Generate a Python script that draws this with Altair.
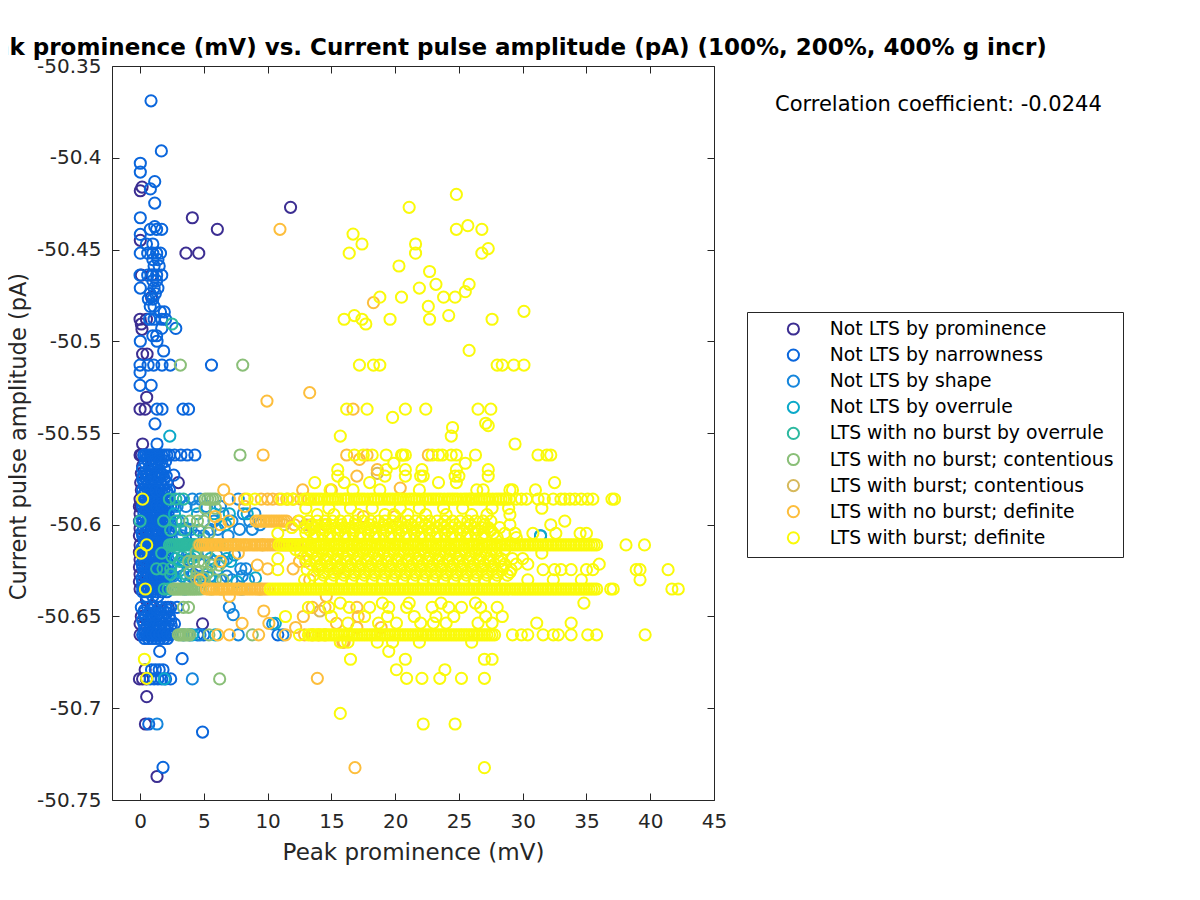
import altair as alt
import pandas as pd

names = ["Not LTS by prominence", "Not LTS by narrowness", "Not LTS by shape", "Not LTS by overrule",
         "LTS with no burst by overrule", "LTS with no burst; contentious", "LTS with burst; contentious",
         "LTS with no burst; definite", "LTS with burst; definite"]
colors = ["#3C2E92", "#0A66DC", "#1586DC", "#0BA9C9", "#2DB9A0", "#8ABF78", "#D6B95C", "#FDBE3C", "#FAFA0A"]

prominence_rows = [
 (-50.427,[11.8]),(-50.4327,[4.1]),(-50.439,[6.06]),(-50.452,[3.6,4.6]),(-50.416,[0.16]),(-50.418,[0.02]),
 (-50.445,[0.02]),(-50.464,[0.1,0.9]),(-50.476,[0.9]),(-50.488,[0.0,0.5]),(-50.4906,[0.1]),(-50.4935,[0.15]),
 (-50.507,[0.2,0.55]),(-50.5305,[0.52]),(-50.537,[0.0,0.4]),(-50.556,[0.2]),(-50.562,[0.0,0.1,0.3]),
 (-50.568,[0.2,0.9]),(-50.572,[0.1]),(-50.577,[0.05,3.0]),(-50.581,[0.1]),(-50.586,[0.0]),(-50.59,[-0.05,0.1]),
 (-50.594,[0.0]),(-50.598,[-0.05]),(-50.602,[0.0]),(-50.606,[-0.05]),(-50.611,[0.0]),(-50.615,[-0.05]),
 (-50.619,[0.0]),(-50.623,[-0.05]),(-50.627,[0.0]),(-50.631,[-0.05]),(-50.635,[0.0]),(-50.641,[0.5]),
 (-50.645,[2.2,0.9]),(-50.65,[0.1]),(-50.654,[0.0,4.9]),(-50.66,[0.0]),(-50.679,[0.4]),(-50.684,[-0.05,0.2,0.5]),
 (-50.6937,[0.52]),(-50.7086,[0.42]),(-50.7372,[1.33]),
]
narrowness_rows = [
 (-50.369,[0.86]),(-50.3963,[1.67]),(-50.403,[0.02]),(-50.4078,[0.02]),(-50.413,[1.15]),(-50.417,[0.81]),
 (-50.4247,[1.15]),(-50.4327,[0.02]),(-50.4375,[1.15]),(-50.439,[0.8,1.3,1.7]),(-50.4418,[0.02]),
 (-50.447,[0.5,1.0]),(-50.452,[0.02,0.6,1.0,1.3,1.6]),(-50.4555,[1.0,1.4]),(-50.459,[1.1,1.5]),
 (-50.464,[0.0,0.6,1.0,1.3,1.7]),(-50.467,[1.0,1.3]),(-50.471,[0.02,1.1,1.4]),(-50.474,[0.8,1.2]),
 (-50.477,[0.65,1.0]),(-50.481,[0.8,1.1]),(-50.484,[1.6,1.9]),(-50.488,[0.75,1.1,1.7,2.0]),(-50.493,[1.7,2.8]),
 (-50.5,[1.33,0.02]),(-50.497,[1.0,1.3]),(-50.5053,[1.85]),(-50.513,[0.0,0.63,1.07,1.72,2.37,5.6]),
 (-50.517,[0.0]),(-50.524,[0.0,0.87]),(-50.537,[1.33,1.72,3.37,3.8]),(-50.545,[1.17]),(-50.556,[1.33]),
 (-50.562,[0.3,0.45,0.6,0.75,0.9,1.05,1.2,1.35,1.5,1.7,1.9,2.1,2.3,2.7,3.2,3.7,4.3]),
 (-50.5665,[0.4,0.9,1.3,1.7]),(-50.5695,[0.2,0.7,1.1,1.9]),(-50.573,[0.5,0.9,1.4,1.8,2.64]),
 (-50.577,[0.3,0.7,1.2,1.6,2.1]),(-50.581,[0.2,0.6,1.0,1.5,1.9,2.3]),(-50.586,[0.4,0.8,1.2,1.6,2.0]),
 (-50.59,[0.2,0.6,1.1,1.5,1.9,2.4]),(-50.594,[0.3,0.7,1.0,1.4,1.8,2.2]),(-50.598,[0.2,0.6,1.1,1.5,2.0,2.4]),
 (-50.602,[0.3,0.7,1.2,1.6,2.0,3.6]),(-50.606,[0.2,0.5,1.0,1.4,1.9,2.3,4.4]),(-50.611,[0.3,0.7,1.1,1.5,1.9,2.2]),
 (-50.615,[0.2,0.6,1.0,1.4,1.8,2.1]),(-50.619,[0.3,0.8,1.2,1.6,2.0,3.8]),(-50.623,[0.2,0.6,1.1,1.5,1.9,2.4]),
 (-50.627,[0.3,0.7,1.0,1.4,1.8,2.2,4.2]),(-50.631,[0.2,0.6,1.1,1.5,2.0]),(-50.635,[0.3,0.7,1.1,1.5,1.9]),
 (-50.639,[0.5,1.0,1.4]),(-50.645,[0.1,0.6,1.1,1.6,2.0,2.4,2.9]),(-50.65,[0.4,0.9,1.3,1.8,2.3]),
 (-50.654,[0.3,0.8,1.2,1.7,2.2,2.7]),(-50.66,[0.2,0.5,0.8,1.1,1.4,1.7,2.0,2.3,3.9,4.5,5.0,10.8]),
 (-50.669,[1.54]),(-50.673,[3.3]),(-50.679,[0.9,1.2,1.5,1.8]),(-50.684,[0.8,1.1,1.4,1.7,2.0,2.4]),
 (-50.7086,[0.68]),(-50.713,[4.9]),(-50.7322,[1.8]),
 (-50.564,[0.5,0.8,1.1,1.5]),(-50.5715,[0.4,0.9,1.3,1.6]),(-50.575,[0.2,0.5,1.0,1.45,1.9]),
 (-50.579,[0.45,0.85,1.35,1.75]),(-50.5835,[0.3,0.7,1.1,1.4,1.8,2.2]),(-50.588,[0.25,0.55,1.0,1.4,1.75,2.2]),
 (-50.592,[0.4,0.85,1.25,1.65,2.1]),(-50.596,[0.45,0.9,1.2,1.6,2.05]),(-50.6,[0.4,0.85,1.3,1.8,2.2]),
 (-50.604,[0.15,0.5,0.95,1.4,1.8,2.25]),(-50.608,[0.35,0.75,1.2,1.65,2.1]),(-50.6125,[0.15,0.5,0.9,1.3,1.7,2.05]),
 (-50.617,[0.4,0.8,1.2,1.6,2.0]),(-50.621,[0.15,0.55,1.0,1.4,1.8,2.2]),(-50.625,[0.4,0.85,1.3,1.7,2.1]),
 (-50.629,[0.15,0.5,0.9,1.2,1.6,2.0]),(-50.633,[0.4,0.85,1.3,1.75]),(-50.6365,[0.2,0.5,0.9,1.3,1.7,2.1]),
 (-50.648,[0.3,0.7,1.2,1.5,2.1]),(-50.652,[0.2,0.6,1.0,1.5,2.0,2.4]),(-50.657,[0.35,0.75,1.3,1.9,2.4]),
 (-50.662,[0.35,0.65,0.95,1.25,1.55,1.85,2.15]),
 (-50.5655,[0.65,1.15,1.55,2.0]),(-50.5735,[0.25,0.7,1.15,1.6,2.05]),(-50.5815,[0.4,0.8,1.25,1.7,2.1]),
 (-50.59,[0.4,0.85,1.3,1.7,2.15,2.6]),(-50.597,[0.25,0.7,1.35,1.8,2.25]),(-50.6035,[0.55,1.05,1.5,1.9,2.4]),
 (-50.61,[0.5,0.9,1.3,1.7,2.1]),(-50.6165,[0.3,0.7,1.1,1.5,1.95]),(-50.6225,[0.4,0.85,1.25,1.7,2.15]),
 (-50.628,[0.5,0.95,1.3,1.65,2.05,2.4]),(-50.634,[0.2,0.6,1.0,1.4,1.8]),(-50.6465,[0.35,0.85,1.35,1.8,2.25]),
 (-50.655,[0.55,1.0,1.45,1.95,2.45]),(-50.6595,[0.35,0.65,0.95,1.25,1.55,1.85,2.15,2.5]),
]
shape_rows = [
 (-50.586,[4.1,7.7,3.1,4.7]),(-50.594,[6.5,8.1,9.0]),(-50.598,[5.8,7.2,8.6,3.0]),(-50.6,[9.4]),
 (-50.606,[31.4,3.3,5.0,6.9]),(-50.611,[2.5,4.2]),(-50.62,[3.4,5.8,6.5]),(-50.624,[2.9,7.9,8.3]),
 (-50.63,[4.3,6.3,7.2,8.5]),(-50.635,[3.5,8.0]),(-50.645,[7.0]),(-50.649,[7.3]),(-50.654,[10.4]),
 (-50.66,[3.4,4.7,7.7,11.2]),(-50.684,[4.1]),(-50.7086,[1.33]),
 (-50.59,[2.9,3.6,4.4,5.2,6.3]),(-50.6025,[2.7,3.2,4.0,5.5,6.1,7.8,8.8]),(-50.6165,[3.0,3.7,4.5,5.2,6.0,7.4]),
 (-50.628,[2.6,3.3,4.0,4.8,5.5,6.8,8.0]),
]
overrule_rows = [
 (-50.5517,[2.33]),(-50.6,[6.7]),(-50.61,[3.6]),(-50.62,[7.1]),(-50.625,[3.1,6.0]),(-50.629,[9.05,5.5]),
 (-50.6537,[10.6]),(-50.66,[5.9,4.1]),(-50.684,[1.9]),(-50.606,[31.4]),
 (-50.594,[2.7,4.5,5.8,7.0,8.4]),(-50.6185,[2.8,4.0,5.5,6.8]),(-50.631,[2.8,3.9,5.0,7.6]),
]
no_burst_overrule_rows = [
 (-50.4906,[2.5]),(-50.586,[2.3,2.8,3.4]),(-50.598,[0.0,1.85,2.8,3.3]),
 (-50.611,[2.3,2.45,2.6,2.75,2.9,3.05,3.2,3.35,3.5,3.65,3.8,3.95,4.1,4.3,4.5]),
 (-50.6155,[1.7]),(-50.624,[1.3,1.8,2.4]),(-50.635,[1.9,2.2,2.5]),(-50.62,[3.1]),
 (-50.6175,[2.5,3.3,4.3]),(-50.627,[2.4,3.6,5.2]),(-50.603,[2.4,3.5,4.6]),
]
no_burst_contentious_rows = [
 (-50.513,[3.16,8.05]),(-50.562,[7.84]),(-50.586,[5.1,5.3,5.5,5.7,5.9]),(-50.591,[5.1,5.9]),(-50.6045,[5.4]),
 (-50.611,[4.6,5.0,5.7,6.2,7.1]),(-50.62,[3.8,4.2,4.6,5.0]),(-50.626,[3.9,4.5,5.3]),
 (-50.635,[2.6,2.75,2.9,3.05,3.2,3.35,3.5,3.65,3.8,3.95,4.1,4.25,4.4,4.6,4.8,5.6,6.4]),(-50.645,[3.8,3.4]),(-50.63,[6.5,5.9]),
 (-50.66,[3.0,3.15,3.3,3.45,3.6,3.75,3.9,5.4,8.8]),(-50.684,[6.24]),
 (-50.598,[3.9,4.5,5.0]),(-50.622,[5.6,6.2]),(-50.615,[4.4,5.2]),(-50.629,[4.4,5.0]),
]
burst_contentious_rows = [
 (-50.572,[18.6]),(-50.6,[11.3,13.0]),(-50.611,[7.5,9.6]),(-50.635,[7.8,9.4]),(-50.647,[14.1]),
]
no_burst_definite_rows = [
 (-50.439,[10.97]),(-50.479,[18.3]),(-50.528,[13.3]),(-50.5326,[9.95]),(-50.537,[16.7]),
 (-50.562,[9.65,16.2,17.8,22.6]),(-50.5644,[17.2]),(-50.57,[18.6]),(-50.5735,[17.0]),(-50.58,[20.4]),
 (-50.581,[6.56,12.75,15.0]),(-50.586,[7.0,8.2,9.5,10.0,10.4,10.9,11.5,12.0,12.6,13.2]),(-50.59,[8.2]),
 (-50.5955,[5.9,17.5,20.0]),(-50.598,[6.95,9.1,9.3,9.5,9.7,9.9,10.1,10.3,10.5,10.7,10.9,11.1,11.3,11.5,12.4]),(-50.6,[6.3,12.1,13.4,14.5]),
 (-50.611,[4.7,4.9,5.1,5.25,5.4,5.6,5.8,5.95,6.1,6.3,6.5,6.7,6.9,7.1,7.3,7.5,7.7,7.9,8.1,8.25,8.4,8.6,8.8,9.0,9.2,9.4,9.6,9.8,10.0,10.2,10.4,10.6,10.8,11.0,11.2,11.4,11.6,11.8,12.0,12.2,12.4,12.6,12.8]),
 (-50.6155,[7.7]),(-50.62,[6.3,12.5,13.0]),(-50.622,[9.2,14.2]),(-50.624,[10.0,12.0,15.5]),(-50.63,[4.7,13.3]),
 (-50.635,[5.2,5.4,5.6,5.8,6.0,6.2,6.4,6.6,6.8,7.0,7.2,7.4,7.6,7.8,8.0,8.2,8.4,8.6,8.8,9.0,9.2,9.4,9.6,9.8,10.0]),(-50.639,[7.0,14.6]),(-50.645,[13.5,14.5,17.0]),
 (-50.647,[9.7]),(-50.65,[12.8,17.1]),(-50.6537,[8.0,10.1,15.4]),(-50.656,[17.0,18.9,12.2]),
 (-50.66,[6.1,7.0,9.3,11.4,12.9,13.5,14.0,14.5]),(-50.664,[15.9,16.0]),(-50.6837,[13.9]),(-50.7324,[16.85]),
]

yellow_top_xs = [21.1,24.8,24.8,25.7,26.8,16.7,17.4,16.4,21.6,21.6,26.8,27.3,20.3,22.7,23.2,25.8,21.9,18.8,20.5,23.8,24.7,25.5,22.6,24.2,16.0,16.8,17.4,17.7,19.6,22.7,27.6,30.1,25.8,19.8,24.5,24.4,27.1,27.3,15.7,29.4]
yellow_top_ys = [-50.427,-50.42,-50.439,-50.437,-50.439,-50.4416,-50.447,-50.452,-50.447,-50.452,-50.452,-50.4495,-50.459,-50.462,-50.469,-50.469,-50.471,-50.476,-50.476,-50.476,-50.476,-50.473,-50.481,-50.486,-50.488,-50.486,-50.488,-50.4906,-50.488,-50.488,-50.488,-50.4837,-50.505,-50.5415,-50.547,-50.5517,-50.5447,-50.546,-50.5517,-50.556]
yellow_rows = [
 (-50.513,[17.2,18.3,18.8,28.0,28.4,29.3,30.1]),
 (-50.537,[16.2,17.8,20.8,22.4,26.5,27.5]),
 (-50.562,[16.8,17.5,18.2,19.3,20.5,20.6,20.8,22.9,23.4,23.7,24.4,24.8,26.3,31.2,31.9,32.2]),
 (-50.5665,[25.5,19.9]),(-50.57,[27.3,24.8,19.3,15.5,20.8,22.1]),
 (-50.5735,[15.5,19.2,20.8,22.0,22.2,24.7,25.0,27.3]),
 (-50.577,[13.7,18.0,24.8,32.5,16.0,23.4]),
 (-50.581,[16.7,18.8,26.4,26.9,29.2,29.0,31.0,21.9,14.9]),
 (-50.586,[0.2,8.4,9.0,11.1,11.6,12.0,12.9,13.4,13.8,14.2,14.7,15.1,15.5,16.0,16.3,16.8,17.2,17.6,18.1,18.5,18.9,19.4,19.8,20.2,20.6,21.1,21.5,21.9,22.4,22.8,23.2,23.6,24.1,24.5,24.9,25.4,25.8,26.1,26.6,27.0,27.4,27.9,28.3,28.7,29.5,29.9,30.3,31.2,31.7,32.4,33.0,33.3,33.7,34.1,34.6,35.1,35.5,37.0,37.2]),
 (-50.586,[13.1,13.6,14.0,14.45,14.9,15.3,15.75,16.15,16.55,17.0,17.4,17.85,18.3,18.7,19.15,19.6,20.0,20.4,20.85,21.3,21.7,22.15,22.6,23.0,23.4,23.85,24.3,24.7,25.15,25.6,25.95,26.35,26.8,27.2,27.65,28.1,28.5,28.95]),
 (-50.591,[13.0,14.8,16.5,18.2,20.4,21.9,23.8,25.3,27.6,28.9,31.5]),
 (-50.5945,[13.9,15.2,17.1,19.2,19.9,21.0,22.4,24.0,26.0,27.2,29.0]),
 (-50.598,[12.5,13.2,13.9,14.5,15.1,15.7,16.3,16.9,17.5,18.1,18.7,19.2,19.8,20.4,21.0,21.6,22.1,22.7,23.3,23.9,24.5,25.1,25.7,26.3,26.9,27.5,33.3]),
 (-50.6,[29.0,32.2,13.5,14.6,15.8,16.9,18.0,19.1,20.1,21.3,22.4,23.6,24.7,25.9,27.0]),
 (-50.6015,[11.9,12.9,13.6,14.2,14.8,15.4,16.0,16.6,17.2,17.8,18.4,19.0,19.6,20.2,20.8,21.4,22.0,22.6,23.2,23.8,24.4,25.0,25.6,26.2,26.8,27.3,28.2]),
 (-50.603,[13.3,14.5,15.7,16.8,18.1,19.3,20.5,21.7,22.9,24.1,25.3,26.5,27.5]),
 (-50.6047,[10.8,13.0,13.7,14.3,14.9,15.5,16.1,16.7,17.3,17.9,18.5,19.1,19.7,20.3,20.9,21.5,22.1,22.7,23.3,23.9,24.5,25.1,25.7,26.3,27.0,27.7,28.6,29.4,30.8,32.6,34.5,35.0]),
 (-50.607,[13.6,14.8,16.0,17.2,18.4,19.6,20.8,22.0,23.2,24.4,25.6,26.8,28.0,29.5]),
 (-50.611,[10.9,11.3,11.7,12.1,12.6,13.0,13.4,13.8,14.2,14.6,15.0,15.4,15.8,16.2,16.6,17.0,17.4,17.8,18.2,18.6,19.0,19.4,19.8,20.2,20.6,21.0,21.4,21.8,22.2,22.6,23.0,23.4,23.8,24.2,24.6,25.0,25.4,25.8,26.2,26.6,27.0,27.4,27.8,28.2,28.6,29.0,29.4,29.8,30.2,30.6,31.0,31.4,31.8,32.2,32.6,33.0,33.4,33.8,34.2,34.6,35.0,35.4,35.8,0.52,38.1,39.55]),
 (-50.611,[11.1,11.5,11.9,12.35,12.8,13.2,13.6,14.0,14.4,14.8,15.2,15.6,16.0,16.4,16.8,17.2,17.6,18.0,18.4,18.8,19.2,19.6,20.0,20.4,20.8,21.2,21.6,22.0,22.4,22.8,23.2,23.6,24.0,24.4,24.8,25.2,25.6,26.0,26.4,26.8,27.2,27.6,28.0,28.4,28.8,29.2,29.6,30.0,30.4,30.8,31.2,31.6,32.0,32.4,32.8,33.2,33.6,34.0,34.4,34.8,35.2,35.6]),
 (-50.6135,[12.2,13.3,14.4,15.5,16.6,17.7,18.8,19.9,21.0,22.1,23.2,24.3,25.4,26.5,27.6,28.6]),
 (-50.6155,[0.08,12.6,13.5,14.3,15.1,15.9,16.7,17.5,18.3,19.1,19.9,20.7,21.5,22.3,23.1,23.9,24.7,25.5,26.3,27.1,27.9,31.5]),
 (-50.617,[13.1,13.9,14.7,15.5,16.3,17.1,17.9,18.7,19.5,20.3,21.1,21.9,22.7,23.5,24.3,25.1,25.9,26.7,27.5]),
 (-50.6185,[10.8,13.0,13.8,14.6,15.4,16.2,17.0,17.8,18.6,19.4,20.2,21.0,21.8,22.6,23.4,24.2,25.0,25.8,26.6,27.4,28.3,29.2,30.0]),
 (-50.62,[13.8,14.6,15.4,16.2,17.0,17.8,18.6,19.4,20.2,21.0,21.8,22.6,23.4,24.2,25.0,25.8,26.6,27.4,28.2]),
 (-50.6215,[13.4,14.2,15.0,15.8,16.6,17.4,18.2,19.0,19.8,20.6,21.4,22.2,23.0,23.8,24.6,25.4,26.2,27.0,27.8,28.6,29.5,30.4,36.0]),
 (-50.623,[14.0,14.8,15.6,16.4,17.2,18.0,18.8,19.6,20.4,21.2,22.0,22.8,23.6,24.4,25.2,26.0,26.8,27.6,28.4]),
 (-50.6245,[10.8,13.1,14.0,14.8,15.6,16.4,17.2,18.0,18.8,19.6,20.4,21.2,22.0,22.8,23.6,24.4,25.2,26.0,26.8,27.6,28.4,29.1,31.6,32.5,33.0,33.8,35.0,35.5,38.9,39.2,41.4]),
 (-50.626,[14.4,15.2,16.0,16.8,17.6,18.4,19.2,20.0,20.8,21.6,22.4,23.2,24.0,24.8,25.6,26.4,27.2,28.0,29.0]),
 (-50.6275,[13.6,14.4,15.2,16.0,16.8,17.6,18.4,19.2,20.0,20.8,21.6,22.4,23.2,24.0,24.8,25.6,26.4,27.2,28.0,28.8]),
 (-50.63,[12.9,14.1,15.0,15.8,16.6,17.4,18.2,19.0,19.8,20.6,21.4,22.2,23.0,23.8,24.6,25.4,26.2,27.0,27.8,30.4,32.4,34.6,39.2]),
 (-50.635,[0.42,10.2,10.6,11.0,11.4,11.8,12.2,12.6,13.0,13.4,13.8,14.2,14.6,15.0,15.4,15.8,16.2,16.6,17.0,17.4,17.8,18.2,18.6,19.0,19.4,19.8,20.2,20.6,21.0,21.4,21.8,22.2,22.6,23.0,23.4,23.8,24.2,24.6,25.0,25.4,25.8,26.2,26.6,27.0,27.4,27.8,28.2,28.6,29.0,29.4,29.8,30.2,30.6,31.0,31.4,31.8,32.2,32.6,33.0,33.4,33.8,34.2,34.6,35.0,35.4,35.8,36.9,37.1,41.7,42.2]),
 (-50.635,[10.4,10.8,11.2,11.6,12.0,12.4,12.8,13.2,13.6,14.0,14.4,14.8,15.2,15.6,16.0,16.4,16.8,17.2,17.6,18.0,18.4,18.8,19.2,19.6,20.0,20.4,20.8,21.2,21.6,22.0,22.4,22.8,23.2,23.6,24.0,24.4,24.8,25.2,25.6,26.0,26.4,26.8,27.2,27.6,28.0,28.4,28.8,29.2,29.6,30.0,30.4,30.8,31.2,31.6,32.0,32.4,32.8,33.2,33.6,34.0,34.4,34.8,35.2,35.6]),
 (-50.6427,[34.8,15.7,19.0,21.1,23.6,26.3]),
 (-50.645,[13.2,14.8,16.4,18.0,19.5,20.9,22.9,24.2,25.2,26.7,28.0]),
 (-50.65,[11.4,15.0,17.6,19.4,21.5,23.2,24.6,27.1,28.4]),
 (-50.6536,[16.3,18.7,20.1,22.0,23.0,24.0,26.5,27.6,31.1,33.8]),
 (-50.66,[12.5,13.2,13.6,14.0,14.4,14.8,15.2,15.6,16.0,16.4,16.8,17.2,17.6,18.0,18.4,18.8,19.2,19.6,20.0,20.4,20.8,21.2,21.6,22.0,22.4,22.8,23.2,23.6,24.0,24.4,24.8,25.2,25.6,26.0,26.4,26.8,27.2,27.6,29.2,29.9,30.4,31.6,32.4,32.8,33.8,35.1,35.8,39.6]),
 (-50.66,[13.4,13.8,14.2,14.6,15.0,15.4,15.8,16.2,16.6,17.0,17.4,17.8,18.2,18.6,19.0,19.4,19.8,20.2,20.6,21.0,21.4,21.8,22.2,22.6,23.0,23.4,23.8,24.2,24.6,25.0,25.4,25.8,26.2,26.6,27.0,27.4,27.8]),
 (-50.664,[18.6,19.8,21.9,26.0,15.7,16.3]),(-50.669,[19.5]),
 (-50.6733,[0.34,16.5,20.8,27.0,27.6]),(-50.679,[20.1,23.9]),
 (-50.6837,[0.52,20.9,22.1,23.5,25.2,27.0]),(-50.7028,[15.7]),(-50.7086,[22.2,24.7]),(-50.7324,[27.0]),
]
all_rows = [prominence_rows, narrowness_rows, shape_rows, overrule_rows, no_burst_overrule_rows,
            no_burst_contentious_rows, burst_contentious_rows, no_burst_definite_rows, yellow_rows]

records = []
for rank, rows in enumerate(all_rows):
    if rank == 8:
        records += [dict(x=a, y=b, cat=names[8]) for a, b in zip(yellow_top_xs, yellow_top_ys)]
    for yv, xs in rows:
        records += [dict(x=a, y=yv, cat=names[rank]) for a in xs]
df = pd.DataFrame(records)

x_ticks = [0, 5, 10, 15, 20, 25, 30, 35, 40, 45]
y_ticks = [-50.35, -50.4, -50.45, -50.5, -50.55, -50.6, -50.65, -50.7, -50.75]
y_labels = "datum.value === -50.35 ? '-50.35' : datum.value === -50.4 ? '-50.4' : datum.value === -50.45 ? '-50.45' : datum.value === -50.5 ? '-50.5' : datum.value === -50.55 ? '-50.55' : datum.value === -50.6 ? '-50.6' : datum.value === -50.65 ? '-50.65' : datum.value === -50.7 ? '-50.7' : '-50.75'"
xscale = alt.Scale(domain=[-2.2, 45], nice=False, zero=False)
yscale = alt.Scale(domain=[-50.75, -50.35], nice=False, zero=False)
ink = "#262626"
inward = {"expr": "-7"}

points = alt.Chart(df).mark_point(shape="circle", filled=False, size=125, strokeWidth=2, opacity=1).encode(
    x=alt.X("x:Q", scale=xscale, axis=alt.Axis(values=x_ticks, title="Peak prominence (mV)", grid=False,
            tickSize=inward, labelPadding=18, tickColor=ink, domainColor=ink, labelColor=ink, titleColor=ink,
            labelFontSize=20, titleFontSize=23, titleFontWeight="normal", labelFont="DejaVu Sans",
            titleFont="DejaVu Sans", titlePadding=10, labelFlush=False, labelOverlap=False)),
    y=alt.Y("y:Q", scale=yscale, axis=alt.Axis(values=y_ticks, title="Current pulse amplitude (pA)", grid=False,
            tickSize=inward, labelPadding=18, tickColor=ink, domainColor=ink, labelColor=ink, titleColor=ink,
            labelFontSize=20, titleFontSize=22.5, titleFontWeight="normal", labelFont="DejaVu Sans",
            titleFont="DejaVu Sans", titlePadding=6, titleY=370, labelExpr=y_labels, labelOverlap=False)),
    color=alt.Color("cat:N", scale=alt.Scale(domain=names, range=colors), legend=alt.Legend(
        title=None, orient="none", legendX=635, legendY=246, strokeColor=ink, fillColor="white", padding=9,
        symbolType="circle", symbolSize=125, symbolStrokeWidth=2, symbolOffset=28, labelOffset=27,
        labelFontSize=18.8, labelFont="DejaVu Sans", labelColor="#000000", labelLimit=320, rowPadding=7.1,
        clipHeight=16, symbolFillColor="transparent")),
    order=alt.Order("rank:Q"),
).transform_calculate(rank="indexof(" + str(names) + ", datum.cat)")

mirror = alt.Chart(pd.DataFrame({"x": [0], "y": [-50.5]})).mark_point(opacity=0).encode(
    x=alt.X("x:Q", scale=xscale, axis=alt.Axis(orient="top", values=x_ticks, labels=False, title=None, grid=False,
            tickSize=inward, tickColor=ink, domainColor=ink)),
    y=alt.Y("y:Q", scale=yscale, axis=alt.Axis(orient="right", values=y_ticks, labels=False, title=None, grid=False,
            tickSize=inward, tickColor=ink, domainColor=ink)),
)

note = alt.Chart(pd.DataFrame({"t": ["Correlation coefficient: -0.0244"]})).mark_text(
    align="left", baseline="middle", font="DejaVu Sans", fontSize=21, color="#000000").encode(
    x=alt.value(663), y=alt.value(39), text="t:N")

chart = alt.layer(points, mirror, note).resolve_scale(x="independent", y="independent").properties(
    width=602, height=734,
    autosize=alt.AutoSizeParams(type="none"),
    padding={"left": 104, "top": 58, "right": 478, "bottom": 92},
    title=alt.TitleParams("Peak prominence (mV) vs. Current pulse amplitude (pA) (100%, 200%, 400% g incr)",
        anchor="start", dx=-46, dy=10, offset=6, font="DejaVu Sans", fontSize=23, fontWeight="bold", color="#000000"),
).configure_view(stroke=None).configure(background="white")

chart.save("out.html", embed_options={"renderer": "svg", "actions": False})
